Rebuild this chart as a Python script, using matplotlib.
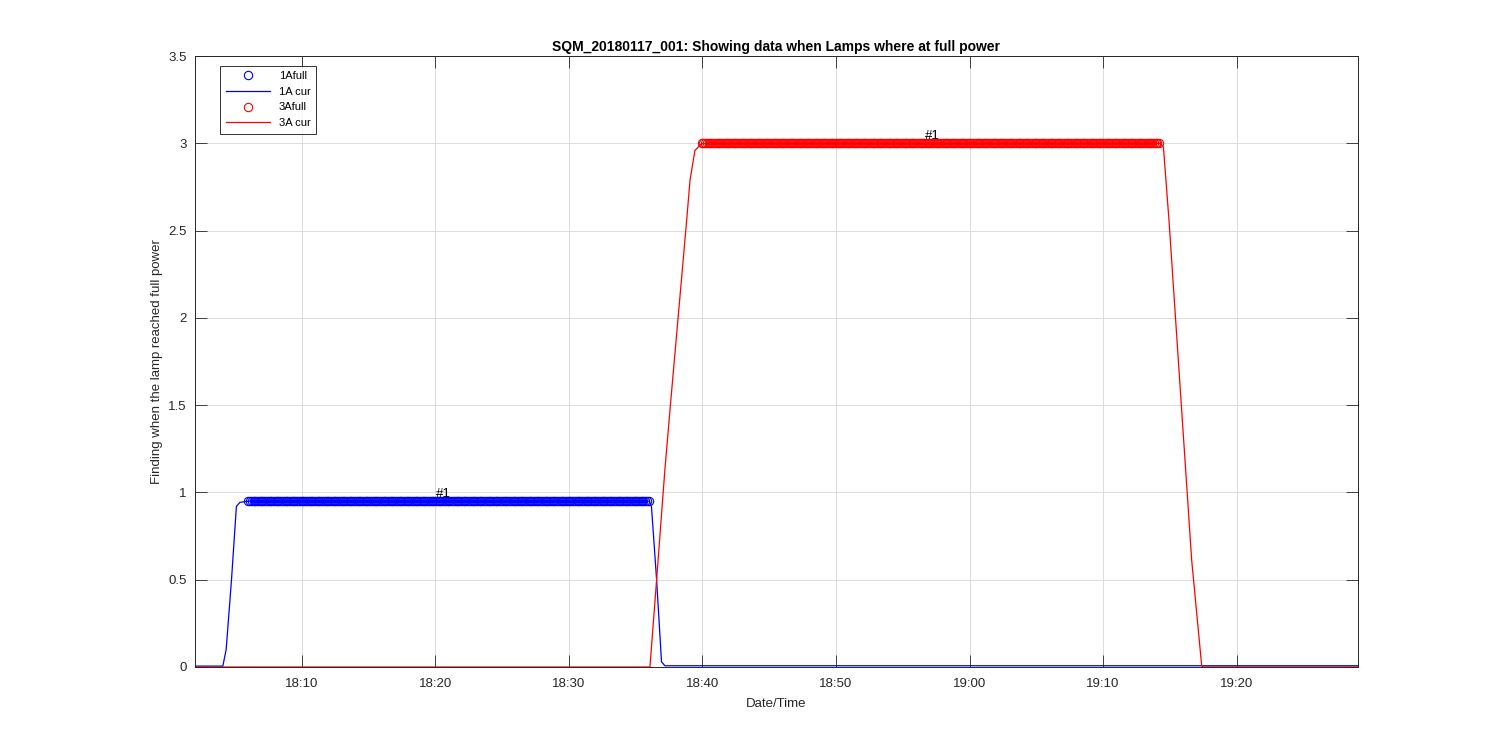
"""Lamp current log SQM_20180117_001, showing when the lamps were at full power."""

# Imports
import datetime as dt
import matplotlib
matplotlib.use('Agg')
import matplotlib.pyplot as plt
import matplotlib.dates as mdates
import numpy as np

# Global Variables
day = '2018-01-17'

cur1_time = ['18:02:00', '18:04:05', '18:04:20', '18:04:44', '18:05:06', '18:05:22', '18:05:59',
             '18:36:01', '18:36:11', '18:36:34', '18:36:56', '18:37:11', '19:29:05']
cur1_val = [0.005, 0.005, 0.1, 0.5, 0.92, 0.943, 0.95,
            0.95, 0.918, 0.498, 0.03, 0.007, 0.007]

# 3A lamp current
cur3_time = ['18:02:00', '18:36:04', '18:36:34', '18:37:11', '18:37:38', '18:38:49', '18:39:04',
             '18:39:26', '18:39:56', '19:14:16', '19:14:31', '19:14:56', '19:16:38', '19:17:23',
             '19:17:30', '19:29:05']
cur3_val = [0.0, 0.0, 0.5, 1.128, 1.53, 2.559, 2.788,
            2.959, 2.998, 3.0, 2.978, 2.559, 0.612, 0.006,
            0.0, 0.0]

# full power periods: start, end, sample step (s), level
full1 = ('18:05:59', '18:36:01', 8, 0.95)
full3 = ('18:39:56', '19:14:16', 8, 3.0)

# "#1" labels
label1 = ('18:20:03', 0.955)
label3 = ('18:56:40', 3.005)

x_range = ('18:02:00', '19:29:05')
title = 'SQM_20180117_001: Showing data when Lamps where at full power'


def to_time(s):
    return dt.datetime.strptime(day + ' ' + s, '%Y-%m-%d %H:%M:%S')


def full_samples(period):
    start, end, step, level = period
    t0, t1 = to_time(start), to_time(end)
    n = int((t1 - t0).total_seconds() // step) + 1
    times = [t0 + dt.timedelta(seconds=step * i) for i in range(n)]
    return times, np.full(n, level)


def render_data():
    plt.rcParams['font.family'] = ['Liberation Sans', 'DejaVu Sans']
    fig = plt.figure(figsize=(15, 7.5), dpi=100)
    ax = fig.add_axes([0.13, 0.1107, 0.7753, 0.8146])

    t1, v1 = full_samples(full1)
    t3, v3 = full_samples(full3)

    ax.plot(t1, v1, 'o', mfc='none', mec='b', ms=6, mew=0.8, label='1Afull')
    ax.plot([to_time(s) for s in cur1_time], cur1_val, '-', color='b', lw=0.9, label='1A cur')
    ax.plot(t3, v3, 'o', mfc='none', mec='r', ms=6, mew=0.8, label='3Afull')
    ax.plot([to_time(s) for s in cur3_time], cur3_val, '-', color='r', lw=0.9, label='3A cur')

    ax.text(to_time(label1[0]), label1[1], '#1', fontsize=9.5, va='bottom', ha='left')
    ax.text(to_time(label3[0]), label3[1], '#1', fontsize=9.5, va='bottom', ha='left')

    ax.set_xlim(to_time(x_range[0]), to_time(x_range[1]))
    ax.set_ylim(0, 3.5)
    ax.set_yticks(np.arange(0, 3.51, 0.5))
    ax.set_yticklabels(['0', '0.5', '1', '1.5', '2', '2.5', '3', '3.5'])
    ax.xaxis.set_major_locator(mdates.MinuteLocator(byminute=[0, 10, 20, 30, 40, 50]))
    ax.xaxis.set_major_formatter(mdates.DateFormatter('%H:%M'))

    ax.grid(True, color='#dcdcdc', lw=0.7)
    ax.set_axisbelow(True)
    ax.tick_params(direction='in', length=8.5, width=0.6, top=True, right=True,
                   labelsize=9.5, colors='#262626')
    ax.tick_params(axis='x', pad=8)
    ax.tick_params(axis='y', pad=6)
    for sp in ax.spines.values():
        sp.set_linewidth(0.7)
        sp.set_color('#262626')

    ax.set_xlabel('Date/Time', fontsize=9.5, color='#262626', labelpad=6)
    ax.set_ylabel('Finding when the lamp reached full power', fontsize=9.5, color='#262626',
                  labelpad=4)
    ax.set_title(title, fontsize=10, fontweight='bold', pad=3.5)

    leg = ax.legend(loc='upper left', bbox_to_anchor=(0.0215, 0.984), borderaxespad=0,
                    fontsize=8, handlelength=4, frameon=True, fancybox=False,
                    labelspacing=0.5, borderpad=0.5, handletextpad=0.8)
    leg.get_frame().set_edgecolor('black')
    leg.get_frame().set_linewidth(0.7)

    fig.savefig('out.png', dpi=100)


def main():
    render_data()


if __name__ == "__main__":
    main()
